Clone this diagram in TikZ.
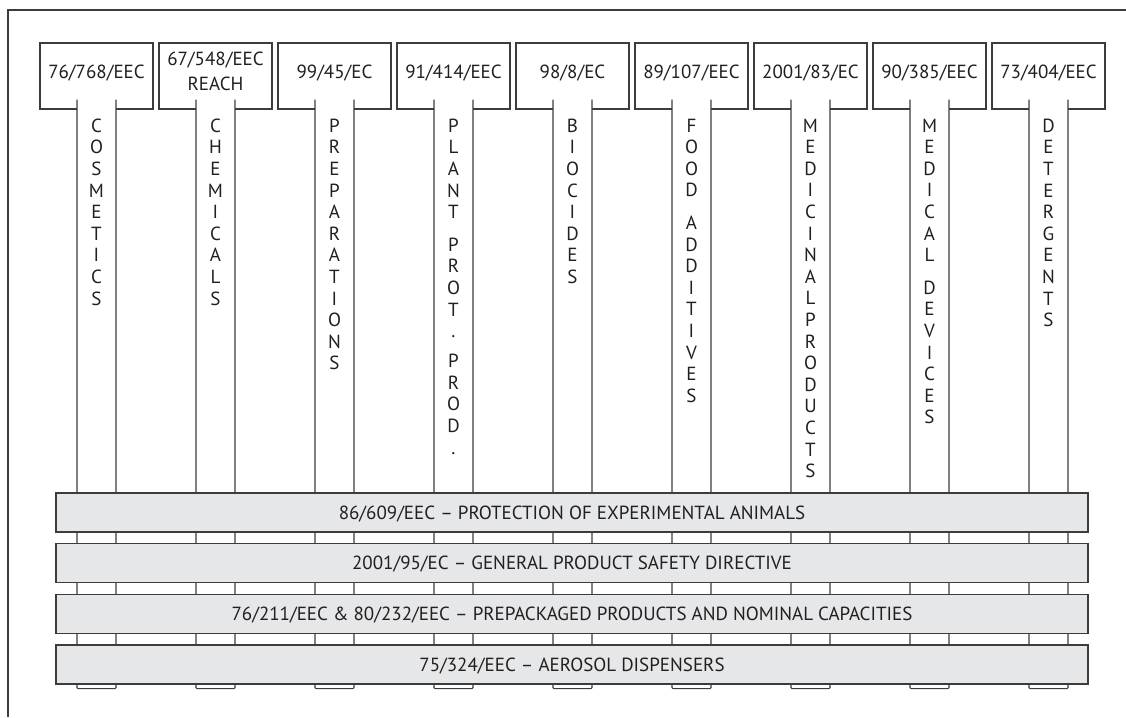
\documentclass[tikz,border=0pt]{standalone}
\usepackage{fontspec}
\setmainfont{PT Sans}

\definecolor{inkgray}{HTML}{3C3C3C}
\definecolor{textgray}{HTML}{231F20}
\definecolor{barfill}{HTML}{E6E7E8}

\tikzset{
  law/.style={draw=inkgray, fill=white, line width=1.1pt, minimum width=113pt,
    minimum height=66pt, inner sep=0pt, text depth=9pt, align=center,
    font=\fontsize{19}{25}\selectfont, text=textgray},
  sector/.style={anchor=north, inner sep=0pt, align=center,
    font=\fontsize{19}{21.6}\selectfont, text=textgray},
  directive/.style={draw=inkgray, fill=barfill, line width=1.1pt, minimum width=1032pt,
    minimum height=39pt, inner sep=0pt, text height=13.5pt, text depth=0pt,
    font=\fontsize{19}{22}\selectfont, text=textgray},
  strip/.style={draw=inkgray, fill=white, line width=1.1pt, rounded corners=1pt}
}

\begin{document}
\begin{tikzpicture}[x=1pt, y=-1pt]
  \useasboundingbox (0,0) rectangle (1126,717);

  % Frame (top and left edges)
  \draw[inkgray, line width=1.3pt] (8,717) -- (8,10) -- (1126,10);

  % Sector columns: directive box, open strip, stacked letters
  \foreach \i/\code/\word in {
    0/{76/768/EEC}/{C\\O\\S\\M\\E\\T\\I\\C\\S},
    1/{67/548/EEC\\REACH}/{C\\H\\E\\M\\I\\C\\A\\L\\S},
    2/{99/45/EC}/{P\\R\\E\\P\\A\\R\\A\\T\\I\\O\\N\\S},
    3/{91/414/EEC}/{P\\L\\A\\N\\T\\[11pt]P\\R\\O\\T\\.\\[8.5pt]P\\R\\O\\D\\.},
    4/{98/8/EC}/{B\\I\\O\\C\\I\\D\\E\\S},
    5/{89/107/EEC}/{F\\O\\O\\D\\[11pt]A\\D\\D\\I\\T\\I\\V\\E\\S},
    6/{2001/83/EC}/{M\\E\\D\\I\\C\\I\\N\\A\\L\\P\\R\\O\\D\\U\\C\\T\\S},
    7/{90/385/EEC}/{M\\E\\D\\I\\C\\A\\L\\[11pt]D\\E\\V\\I\\C\\E\\S},
    8/{73/404/EEC}/{D\\E\\T\\E\\R\\G\\E\\N\\T\\S}} {
    \node[law] (h\i) at ({96.5+119*\i}, 76) {\code};
    \filldraw[strip] (h\i.south) ++(-19.5,-10) -- ++(0,589) -- ++(39,0) -- ++(0,-589);
    \node[sector] (s\i) at ([yshift=-9pt]h\i.south) {\word};
  }

  % Horizontal directives across all sectors
  \foreach \j/\txt in {
    0/{86/609/EEC – PROTECTION OF EXPERIMENTAL ANIMALS},
    1/{2001/95/EC – GENERAL PRODUCT SAFETY DIRECTIVE},
    2/{76/211/EEC \& 80/232/EEC – PREPACKAGED PRODUCTS AND NOMINAL CAPACITIES},
    3/{75/324/EEC – AEROSOL DISPENSERS}} {
    \node[directive] (d\j) at (572, {512.5+50.67*\j}) {\txt};
  }
\end{tikzpicture}
\end{document}
